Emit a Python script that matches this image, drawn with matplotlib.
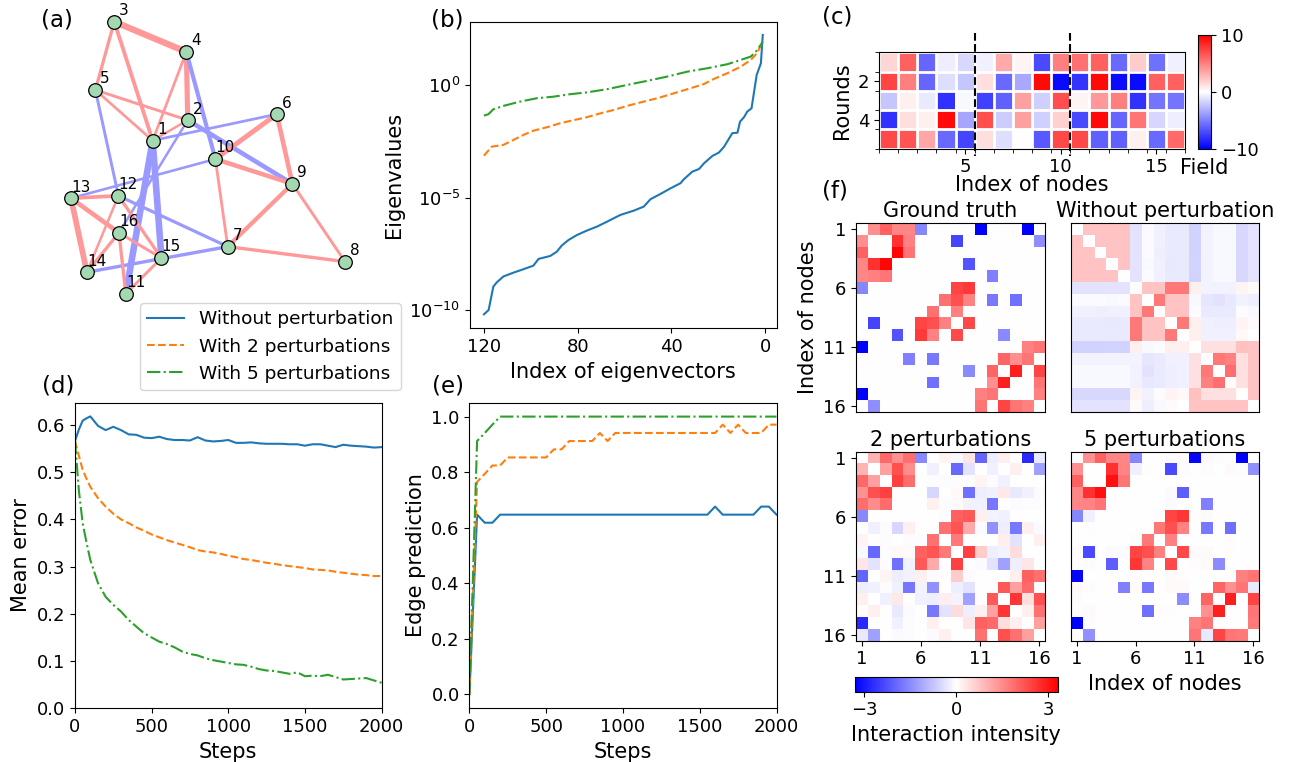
import numpy as np
import matplotlib
matplotlib.use("Agg")
import matplotlib.pyplot as plt
from matplotlib.lines import Line2D
from matplotlib.ticker import NullLocator

W, H = 1289, 762

# ── (a) network : node layout + signed couplings (ground truth) ──────────────
pos_x = [0.298, 0.426, 0.158, 0.421, 0.089, 0.751, 0.572, 1.000,
         0.808, 0.527, 0.200, 0.173, 0.000, 0.058, 0.330, 0.175]
pos_y = [0.563, 0.638, 1.000, 0.889, 0.749, 0.660, 0.173, 0.118,
         0.404, 0.495, 0.000, 0.360, 0.351, 0.079, 0.131, 0.224]

edges = [(1, 2, 1.45), (1, 3, 2.05), (1, 4, 1.55), (1, 5, 1.55), (1, 6, -1.55),
         (1, 11, -3.3), (1, 15, -3.3), (2, 4, 2.65), (2, 5, 1.65), (2, 9, -2.4),
         (2, 16, -1.45), (3, 4, 3.2), (3, 5, 1.8), (4, 10, -2.2), (5, 12, -1.65),
         (6, 9, 2.4), (6, 10, 2.55), (7, 8, 1.85), (7, 9, 2.25), (7, 10, 1.6),
         (7, 12, -1.75), (7, 14, -1.85), (8, 9, 1.65), (9, 10, 2.35),
         (10, 13, -1.5), (11, 15, 1.65), (11, 16, 1.8), (12, 13, 2.0),
         (12, 14, 1.45), (12, 15, 1.8), (13, 14, 2.9), (13, 16, 2.4),
         (14, 16, 1.8), (15, 16, 1.65)]

# ── (b) eigenvalue spectra (index, log10 eigenvalue) ─────────────────────────
eig_idx_none = [120, 118, 116, 114.6, 111.7, 107.4, 103.2, 98.9, 96.7, 91.7,
                88.9, 86.8, 83.9, 80.3, 76, 71.8, 67.5, 61.8, 56.1, 51.8, 48.9,
                44.7, 40.4, 36.1, 34.7, 31.1, 28.2, 26.1, 22.5, 19.7, 17.5, 14,
                11.8, 10.7, 9, 7.6, 5.8, 4.7, 3.6, 1.8, 1]
eig_log_none = [-10.18, -9.99, -8.95, -8.77, -8.5, -8.33, -8.18, -8.02, -7.72,
                -7.59, -7.40, -7.13, -6.88, -6.66, -6.46, -6.29, -6.07, -5.77,
                -5.58, -5.40, -5.07, -4.84, -4.59, -4.36, -4.19, -3.85, -3.73,
                -3.48, -3.15, -3.00, -2.74, -2.14, -2.12, -1.63, -1.43, -1.18,
                -1.04, -0.30, 0.44, 0.96, 2.22]
eig_idx_two = [120, 116.7, 111.7, 107.4, 103.2, 98.9, 93.2, 87.5, 82.5, 76,
               70.3, 64.6, 58.9, 51.8, 46, 38.9, 33.2, 26.1, 21.8, 16.1, 10.4,
               6.1, 3.3, 1]
eig_log_two = [-3.14, -2.74, -2.66, -2.44, -2.22, -2.03, -1.88, -1.70, -1.58,
               -1.43, -1.26, -1.11, -0.93, -0.74, -0.59, -0.37, -0.19, 0.04,
               0.27, 0.52, 0.81, 1.11, 1.43, 1.95]
eig_idx_five = [120, 118.1, 116, 111.7, 104.6, 97.5, 90.3, 83.2, 76, 67.5,
                58.9, 50.4, 41.8, 33.2, 24.7, 16.1, 10.4, 6.1, 3.3, 1]
eig_log_five = [-1.36, -1.30, -1.08, -0.93, -0.74, -0.59, -0.52, -0.41, -0.33,
                -0.19, 0.0, 0.18, 0.37, 0.59, 0.74, 0.92, 1.11, 1.26, 1.55, 1.92]

# ── (c) applied fields, 5 rounds x 16 nodes ──────────────────────────────────
field = [
    [1.6, 6.2, -6.0, -0.7, -1.5, -0.6, 3.3, 0.4, -7.1, 5.0, 5.6, 6.2, -5.8, 2.0, -5.6, -0.6],
    [7.3, 5.0, -6.0, -1.3, -2.2, 1.3, -5.8, -3.4, 9.6, -9.6, -7.9, 9.6, -9.6, -9.6, 6.2, 6.2],
    [-2.2, 0.6, -0.8, -8.1, -0.3, -7.5, -6.2, 3.7, -1.8, 6.9, 0.4, 4.0, 5.0, -8.0, -5.4, -5.4],
    [-8.1, 1.3, 0.6, 9.6, -3.5, 6.9, -2.0, 3.7, -1.8, 1.8, -7.1, 9.6, -6.0, 5.4, -1.6, -0.7],
    [7.1, 6.7, 3.5, -5.8, -7.3, 1.3, -1.3, 0.0, -6.5, 7.1, 7.1, -6.2, -6.2, 0.6, -5.8, 5.8],
]

# ── (d) mean error vs steps ──────────────────────────────────────────────────
d_steps = [0, 25, 50, 75, 100, 150, 200, 250, 300, 350, 400, 450, 500, 550,
           600, 650, 700, 750, 800, 850, 900, 950, 1000, 1050, 1100, 1150,
           1200, 1250, 1300, 1350, 1400, 1450, 1500, 1550, 1600, 1650, 1700,
           1750, 1800, 1850, 1900, 1950, 2000]
d_none = [0.566, 0.590, 0.609, 0.614, 0.618, 0.598, 0.589, 0.596, 0.589, 0.580,
          0.579, 0.573, 0.572, 0.575, 0.570, 0.568, 0.568, 0.567, 0.574, 0.567,
          0.565, 0.566, 0.568, 0.562, 0.562, 0.563, 0.561, 0.560, 0.560, 0.560,
          0.559, 0.559, 0.556, 0.559, 0.559, 0.556, 0.553, 0.558, 0.556, 0.555,
          0.554, 0.552, 0.553]
d_two = [0.566, 0.535, 0.505, 0.486, 0.469, 0.445, 0.427, 0.412, 0.400, 0.392,
         0.383, 0.376, 0.368, 0.362, 0.356, 0.351, 0.346, 0.341, 0.335, 0.332,
         0.330, 0.327, 0.323, 0.320, 0.316, 0.314, 0.311, 0.308, 0.306, 0.303,
         0.301, 0.299, 0.297, 0.294, 0.293, 0.292, 0.289, 0.287, 0.285, 0.283,
         0.282, 0.280, 0.280]
d_five = [0.566, 0.462, 0.392, 0.351, 0.314, 0.265, 0.236, 0.219, 0.205, 0.187,
          0.173, 0.159, 0.150, 0.141, 0.136, 0.129, 0.120, 0.115, 0.112, 0.106,
          0.102, 0.099, 0.096, 0.093, 0.092, 0.088, 0.083, 0.080, 0.079, 0.076,
          0.073, 0.076, 0.068, 0.069, 0.068, 0.071, 0.066, 0.061, 0.062, 0.063,
          0.064, 0.059, 0.054]

# ── (e) edge prediction vs steps ─────────────────────────────────────────────
e_steps = [0, 50, 100, 150, 200, 250, 300, 350, 400, 450, 500, 550, 600, 650,
           700, 750, 800, 850, 900, 950, 1000, 1050, 1100, 1150, 1200, 1250,
           1300, 1350, 1400, 1450, 1500, 1550, 1600, 1650, 1700, 1750, 1800,
           1850, 1900, 1950, 2000]
e_none = [0.0, 0.647, 0.618, 0.618, 0.647, 0.647, 0.647, 0.647, 0.647, 0.647,
          0.647, 0.647, 0.647, 0.647, 0.647, 0.647, 0.647, 0.647, 0.647, 0.647,
          0.647, 0.647, 0.647, 0.647, 0.647, 0.647, 0.647, 0.647, 0.647, 0.647,
          0.647, 0.647, 0.676, 0.647, 0.647, 0.647, 0.647, 0.647, 0.676, 0.676,
          0.647]
e_two = [0.0, 0.765, 0.794, 0.824, 0.824, 0.853, 0.853, 0.853, 0.853, 0.853,
         0.853, 0.882, 0.882, 0.912, 0.912, 0.912, 0.912, 0.941, 0.912, 0.941,
         0.941, 0.941, 0.941, 0.941, 0.941, 0.941, 0.941, 0.941, 0.941, 0.941,
         0.941, 0.941, 0.941, 0.971, 0.941, 0.971, 0.941, 0.941, 0.941, 0.971,
         0.971]
e_five = [0.0, 0.912, 0.941, 0.971, 1.0, 1.0, 1.0, 1.0, 1.0, 1.0, 1.0, 1.0,
          1.0, 1.0, 1.0, 1.0, 1.0, 1.0, 1.0, 1.0, 1.0, 1.0, 1.0, 1.0, 1.0, 1.0,
          1.0, 1.0, 1.0, 1.0, 1.0, 1.0, 1.0, 1.0, 1.0, 1.0, 1.0, 1.0, 1.0, 1.0,
          1.0]

# ── (f) inferred couplings, upper triangles (row i : j = i+1 .. 16) ──────────
upper_none = [
    [0.75, 0.75, 0.75, 0.75, -0.34, -0.06, -0.2, -0.27, -0.27, -0.57, -0.13, -0.08, -0.08, -0.5, -0.36],
    [0.75, 0.75, 0.75, -0.34, -0.06, -0.2, -0.27, -0.27, -0.57, -0.13, -0.08, -0.08, -0.5, -0.36],
    [0.75, 0.75, -0.34, -0.06, -0.22, -0.27, -0.27, -0.57, -0.13, -0.1, -0.08, -0.5, -0.36],
    [0.75, -0.34, -0.08, -0.2, -0.3, -0.27, -0.55, -0.13, -0.08, -0.1, -0.5, -0.36],
    [-0.34, -0.06, -0.2, -0.27, -0.27, -0.57, -0.13, -0.08, -0.08, -0.5, -0.36],
    [0.75, 0.75, 1.75, 1.75, 0.19, -0.13, -0.17, -0.17, 0.13, 0.06],
    [1.75, 0.75, 0.75, -0.1, -0.33, -0.38, -0.3, -0.17, -0.23],
    [0.75, 0.75, -0.05, -0.27, -0.27, -0.27, -0.05, -0.1],
    [1.75, 0.19, -0.2, -0.23, -0.23, 0.13, 0.06],
    [0.19, -0.19, -0.19, -0.19, 0.08, 0.0],
    [0.4, 0.4, 0.4, 0.82, 0.75],
    [1.75, 1.64, 0.4, 0.75],
    [1.87, 0.4, 0.75],
    [0.4, 0.75],
    [0.75],
]
upper_two = [
    [0.96, 1.95, 1.44, 1.87, -1.54, 0.0, 0.13, -0.09, 0.31, -1.99, -0.23, 0.19, 0.05, -2.76, -0.26],
    [1.23, 2.26, 1.49, 0.0, -0.19, 0.0, -1.95, -0.36, 0.0, -0.19, 0.0, 0.19, 0.0, -1.23],
    [2.47, 1.90, 0.0, -0.05, -0.05, -0.05, -0.05, 0.13, -0.05, -0.19, 0.0, 0.0, 0.0],
    [0.0, 0.0, -0.54, 0.0, 0.09, -1.85, -0.23, -0.19, 0.30, -0.30, -0.19, -0.06],
    [0.0, 0.19, -0.05, 0.06, -0.17, -0.17, -1.76, 0.0, -0.06, -0.04, -0.04],
    [0.0, -0.04, 2.06, 2.16, 0.19, -0.13, -0.19, 0.0, 0.0, 0.0],
    [1.85, 2.20, 1.10, -0.06, -1.44, -0.23, -1.75, 0.19, -0.06],
    [1.72, 0.0, 0.0, 0.0, 0.22, -0.36, 0.0, 0.19],
    [2.47, 0.65, -0.23, -0.13, 0.44, 0.0, 0.0],
    [-0.06, -0.36, -1.23, -0.23, 0.31, 0.0],
    [0.0, 0.0, 0.19, 2.06, 1.85],
    [2.16, 1.23, 1.93, 0.0],
    [2.61, 0.42, 2.26],
    [0.19, 1.85],
    [1.23],
]
upper_five = [
    [1.44, 2.06, 1.55, 1.55, -1.55, 0.0, 0.0, -0.05, 0.05, -3.2, 0.1, -0.05, 0.05, -3.3, 0.0],
    [0.0, 2.68, 1.58, -0.19, 0.05, 0.0, -2.34, -0.05, 0.0, -0.05, 0.0, 0.07, -0.05, -1.44],
    [3.09, 1.80, 0.0, 0.0, 0.0, 0.0, 0.0, 0.0, 0.0, 0.0, 0.0, 0.0, 0.0],
    [0.0, 0.0, 0.0, 0.0, -0.06, -2.07, 0.0, 0.0, 0.0, 0.0, 0.0, 0.0],
    [0.0, 0.0, 0.0, -0.06, 0.0, 0.0, -1.64, 0.0, 0.0, 0.0, 0.0],
    [0.0, -0.03, 2.41, 2.58, 0.05, 0.07, 0.0, 0.0, 0.0, 0.0],
    [1.75, 2.26, 1.58, 0.0, -1.75, 0.0, -1.85, 0.0, 0.0],
    [1.64, 0.0, 0.0, 0.0, 0.0, 0.05, 0.0, 0.0],
    [2.34, 0.07, 0.07, 0.0, 0.05, 0.0, 0.0],
    [0.05, 0.07, -1.49, 0.0, 0.0, 0.0],
    [0.0, 0.0, 0.0, 1.64, 1.79],
    [1.99, 1.44, 1.79, -0.26],
    [2.89, 0.0, 2.41],
    [0.0, 1.79],
    [1.72],
]

C_BLUE, C_ORANGE, C_GREEN = '#1f77b4', '#ff7f0e', '#2ca02c'
FS_LAB, FS_TICK, FS_PANEL = 15, 13, 16.5


def box(x0, y0, x1, y1):
    """pixel box (top-left origin) -> figure fraction rect"""
    return [x0 / W, 1 - y1 / H, (x1 - x0) / W, (y1 - y0) / H]


def from_upper(rows):
    m = np.zeros((16, 16))
    for i, r in enumerate(rows):
        for k, v in enumerate(r):
            j = i + 1 + k
            m[i, j] = m[j, i] = v
    return m


J_true = np.zeros((16, 16))
for i, j, v in edges:
    J_true[i - 1, j - 1] = J_true[j - 1, i - 1] = v

plt.rcParams['xtick.labelsize'] = FS_TICK
plt.rcParams['ytick.labelsize'] = FS_TICK
plt.rcParams['axes.labelsize'] = FS_LAB

fig = plt.figure(figsize=(W / 100, H / 100), dpi=100)

# ── (a) ──────────────────────────────────────────────────────────────────────
ax_a = fig.add_axes(box(71, 21.7, 345, 293.7))
ax_a.set_xlim(0, 1)
ax_a.set_ylim(0, 1)
ax_a.axis('off')
for i, j, v in edges:
    col = '#ff9999' if v > 0 else '#9999ff'
    lw = (2.5 + 2.2 * (abs(v) - 1.45)) / 1.389
    ax_a.plot([pos_x[i - 1], pos_x[j - 1]], [pos_y[i - 1], pos_y[j - 1]],
              color=col, lw=lw, zorder=1, clip_on=False, solid_capstyle='butt')
ax_a.plot(pos_x, pos_y, 'o', ms=9.8, mfc='#a3d8b0', mec='k', mew=0.9,
          zorder=3, clip_on=False)
for k in range(16):
    ax_a.annotate(str(k + 1), (pos_x[k], pos_y[k]), xytext=(7.0, 8.0),
                  textcoords='offset points', ha='center', va='center',
                  fontsize=11, zorder=4)
fig.text(57 / W, 1 - 20 / H, '(a)', fontsize=FS_PANEL, ha='center', va='center')

# ── (b) ──────────────────────────────────────────────────────────────────────
ax_b = fig.add_axes(box(470, 22.3, 776.7, 328.3))
ax_b.semilogy(eig_idx_none, 10.0 ** np.array(eig_log_none), '-', color=C_BLUE, lw=1.5)
ax_b.semilogy(eig_idx_two, 10.0 ** np.array(eig_log_two), '--', color=C_ORANGE, lw=1.5)
ax_b.semilogy(eig_idx_five, 10.0 ** np.array(eig_log_five), '-.', color=C_GREEN, lw=1.5)
ax_b.set_xlim(125.95, -4.95)
ax_b.set_ylim(10 ** -10.8, 10 ** 2.78)
ax_b.set_xticks([120, 80, 40, 0])
ax_b.set_yticks([1e-10, 1e-5, 1e0])
ax_b.yaxis.set_minor_locator(NullLocator())
ax_b.set_xlabel('Index of eigenvectors')
ax_b.set_ylabel('Eigenvalues')
fig.text(447 / W, 1 - 20 / H, '(b)', fontsize=FS_PANEL, ha='center', va='center')

# ── (c) ──────────────────────────────────────────────────────────────────────
ax_c = fig.add_axes(box(879, 52.3, 1185, 148.7))
im_c = ax_c.imshow(np.array(field), cmap='bwr', vmin=-10, vmax=10, aspect='auto',
                   extent=(0.5, 16.5, 5.5, 0.5), interpolation='nearest')
ax_c.set_xticks([5, 10, 15])
ax_c.set_yticks([2, 4])
ax_c.set_xticks(np.arange(0.5, 17, 1), minor=True)
ax_c.set_yticks(np.arange(0.5, 6, 1), minor=True)
ax_c.grid(which='minor', color='white', lw=2)
ax_c.tick_params(which='minor', length=3)
for xv in (5.5, 10.5):
    ax_c.plot([xv, xv], [-0.48, 5.9], 'k--', lw=1.5, clip_on=False, zorder=5)
ax_c.set_xlim(0.5, 16.5)
ax_c.set_ylim(5.5, 0.5)
ax_c.set_xlabel('Index of nodes', labelpad=-1)
ax_c.set_ylabel('Rounds')
cax_c = fig.add_axes(box(1198, 35, 1211, 148.7))
cb_c = fig.colorbar(im_c, cax=cax_c, ticks=[-10, 0, 10])
cax_c.set_xlabel('Field', fontsize=FS_LAB, labelpad=7)
fig.text(837 / W, 1 - 17 / H, '(c)', fontsize=FS_PANEL, ha='center', va='center')

# ── legend shared by (b), (d), (e) ───────────────────────────────────────────
handles = [Line2D([], [], color=C_BLUE, ls='-', lw=1.5),
           Line2D([], [], color=C_ORANGE, ls='--', lw=1.5),
           Line2D([], [], color=C_GREEN, ls='-.', lw=1.5)]
fig.legend(handles, ['Without perturbation', 'With 2 perturbations',
                     'With 5 perturbations'],
           loc='upper left', bbox_to_anchor=(140 / W, 1 - 303 / H),
           borderaxespad=0, fontsize=13.3)

# ── (d) ──────────────────────────────────────────────────────────────────────
ax_d = fig.add_axes(box(75, 402.7, 381.6, 708.3))
ax_d.plot(d_steps, d_none, '-', color=C_BLUE, lw=1.5)
ax_d.plot(d_steps, d_two, '--', color=C_ORANGE, lw=1.5)
ax_d.plot(d_steps, d_five, '-.', color=C_GREEN, lw=1.5)
ax_d.set_xlim(0, 2000)
ax_d.set_ylim(0, 0.647)
ax_d.set_xticks([0, 500, 1000, 1500, 2000])
ax_d.set_yticks([0.0, 0.1, 0.2, 0.3, 0.4, 0.5, 0.6])
ax_d.set_xlabel('Steps')
ax_d.set_ylabel('Mean error')
fig.text(58 / W, 1 - 386 / H, '(d)', fontsize=FS_PANEL, ha='center', va='center')

# ── (e) ──────────────────────────────────────────────────────────────────────
ax_e = fig.add_axes(box(469.4, 402.7, 776.5, 708.3))
ax_e.plot(e_steps, e_none, '-', color=C_BLUE, lw=1.5)
ax_e.plot(e_steps, e_two, '--', color=C_ORANGE, lw=1.5)
ax_e.plot(e_steps, e_five, '-.', color=C_GREEN, lw=1.5)
ax_e.set_xlim(0, 2000)
ax_e.set_ylim(-0.05, 1.05)
ax_e.set_xticks([0, 500, 1000, 1500, 2000])
ax_e.set_yticks([0.0, 0.2, 0.4, 0.6, 0.8, 1.0])
ax_e.set_xlabel('Steps')
ax_e.set_ylabel('Edge prediction')
fig.text(448 / W, 1 - 386 / H, '(e)', fontsize=FS_PANEL, ha='center', va='center')

# ── (f) ──────────────────────────────────────────────────────────────────────
mats = [J_true, from_upper(upper_none), from_upper(upper_two), from_upper(upper_five)]
titles = ['Ground truth', 'Without perturbation', '2 perturbations', '5 perturbations']
rects = [box(855.7, 222.7, 1045, 411.7), box(1070.7, 222.7, 1259.3, 411.7),
         box(855.7, 451.7, 1045, 640.7), box(1070.7, 451.7, 1259.3, 640.7)]
show_y = [True, False, True, False]
show_x = [False, False, True, True]
node_ticks = [0, 5, 10, 15]
node_labels = ['1', '6', '11', '16']
for mat, title, rect, sy, sx in zip(mats, titles, rects, show_y, show_x):
    ax = fig.add_axes(rect)
    im_f = ax.imshow(mat, cmap='bwr', vmin=-3.3, vmax=3.3,
                     interpolation='nearest', aspect='auto')
    ax.set_title(title, fontsize=FS_LAB, pad=4)
    if sy:
        ax.set_yticks(node_ticks)
        ax.set_yticklabels(node_labels)
    else:
        ax.set_yticks([])
    if sx:
        ax.set_xticks(node_ticks)
        ax.set_xticklabels(node_labels)
    else:
        ax.set_xticks([])
    if title == 'Ground truth':
        ax.set_ylabel('Index of nodes')
    if title == '5 perturbations':
        ax.set_xlabel('Index of nodes')

cax_f = fig.add_axes(box(855, 677.3, 1057.7, 691.7))
cb_f = fig.colorbar(im_f, cax=cax_f, orientation='horizontal', ticks=[-3, 0, 3])
cb_f.set_label('Interaction intensity', fontsize=FS_LAB)
fig.text(835 / W, 1 - 191 / H, '(f)', fontsize=FS_PANEL, ha='center', va='center')

fig.savefig('out.png', dpi=100)
